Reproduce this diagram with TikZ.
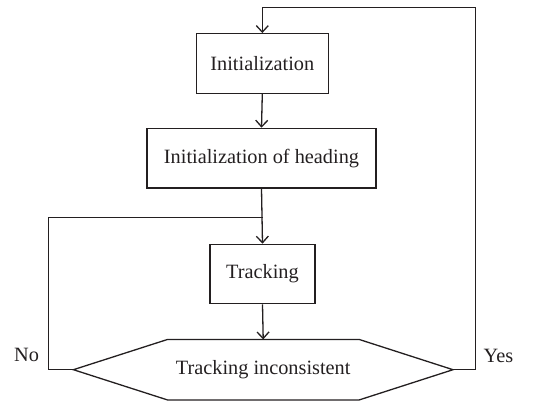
\documentclass[tikz,border=0pt]{standalone}
\usepackage{fontspec}
\setmainfont{Liberation Serif}
\usetikzlibrary{arrows.meta,calc}
\definecolor{ink}{HTML}{231F20}
\tikzset{
  box/.style={draw=ink, line width=1.3pt, text=ink, inner sep=0pt,
    font=\fontsize{20.3}{23}\selectfont},
  flow/.style={draw=ink, line width=1.3pt,
    -{Straight Barb[length=6.5pt,width=12pt,line width=1.3pt]}},
  wire/.style={draw=ink, line width=1.3pt},
  lbl/.style={text=ink, inner sep=0pt, font=\fontsize{20.3}{23}\selectfont}
}
\begin{document}
\begin{tikzpicture}[x=1pt,y=-1pt]
  \useasboundingbox (0,0) rectangle (554,401);

  % process boxes
  \node[box, minimum width=132pt, minimum height=59.6pt] (init) at (262.3,63.5) {Initialization};
  \node[box, minimum width=229pt, minimum height=59.7pt] (head) at (261.5,158.2) {Initialization of heading};
  \node[box, minimum width=105pt, minimum height=59.4pt] (track) at (262.5,274) {Tracking};

  % decision hexagon
  \node[box, draw=none, minimum width=378.3pt, minimum height=59.3pt] (dec) at (263.2,369.7) {Tracking inconsistent};
  \draw[wire] (dec.west) -- ($(dec.north west)+(94.3,0)$) -- ($(dec.north east)+(-94,0)$)
    -- (dec.east) -- ($(dec.south east)+(-94,0)$) -- ($(dec.south west)+(94.3,0)$) -- cycle;

  % loop corners
  \coordinate (tr) at (475.7,7.3);
  \coordinate (tl) at (48.3,217.7);

  % main flow
  \draw[flow] (init.south) -- (head.north);
  \draw[flow] (head.south) -- (track.north);
  \draw[flow] (track.south) -- (dec.north);

  % "No" branch back into tracking
  \draw[wire] (dec.west) -| (tl) -- (tl -| track.north);

  % "Yes" branch back to initialization
  \draw[flow] (dec.east) -| (tr) -| (init.north);

  % branch labels
  \node[lbl] (no) at (26.5,355) {No};
  \node[lbl] (yes) at (498.5,356) {Yes};
\end{tikzpicture}
\end{document}
